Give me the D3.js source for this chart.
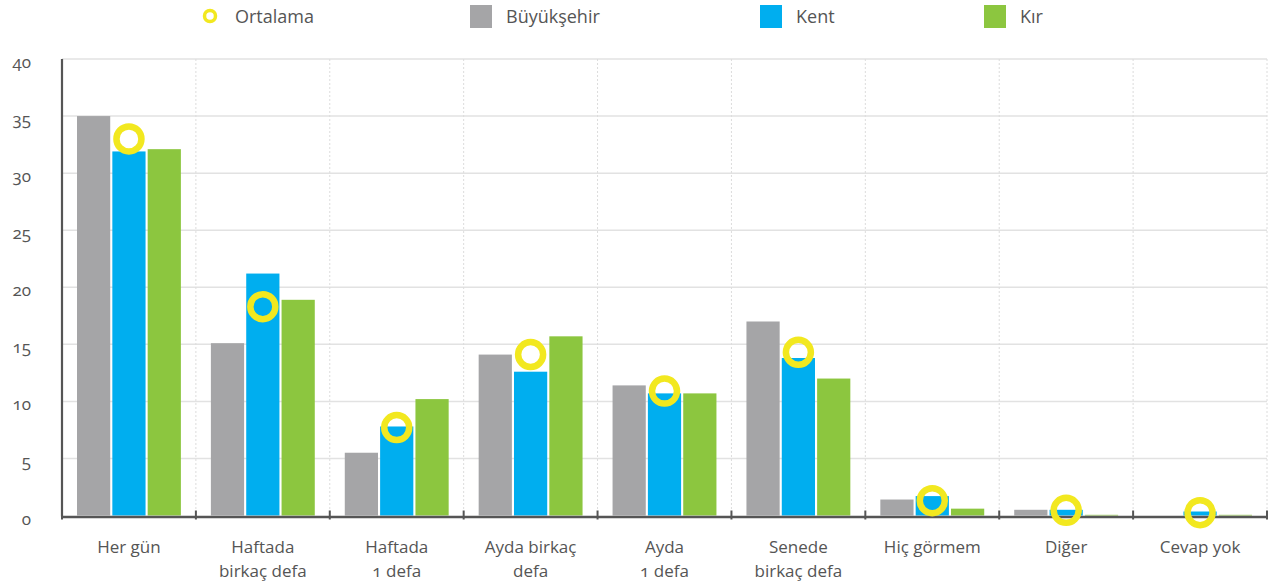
<!DOCTYPE html>
<html>
<head>
<meta charset="utf-8">
<script src="https://cdn.jsdelivr.net/npm/d3@7"></script>
<style>
  html, body { margin: 0; padding: 0; background: #fff; }
  svg { display: block; font-family: "Open Sans", "Noto Sans", sans-serif; }
  .num { font-variant-numeric: oldstyle-nums; font-feature-settings: "onum" 1; }
</style>
</head>
<body>
<svg id="chart" width="1272" height="585"></svg>
<script>
// Categories (two-line labels split by "\n")
const categories = [
  "Her gün", "Haftada\nbirkaç defa", "Haftada\n1 defa", "Ayda birkaç\ndefa",
  "Ayda\n1 defa", "Senede\nbirkaç defa", "Hiç görmem", "Diğer", "Cevap yok"
];
const seriesNames = ["Büyükşehir", "Kent", "Kır"];
const buyuksehir = [35.0, 15.1, 5.5, 14.1, 11.4, 17.0, 1.4, 0.5, 0.0];
const kent       = [31.9, 21.2, 7.8, 12.6, 10.7, 13.8, 1.7, 0.5, 0.35];
const kir        = [32.1, 18.9, 10.2, 15.7, 10.7, 12.0, 0.6, 0.06, 0.06];
const ortalama   = [33.0, 18.3, 7.7, 14.1, 10.9, 14.3, 1.3, 0.45, 0.25];
const yTicks = [0, 5, 10, 15, 20, 25, 30, 35, 40];

const colors = { "Büyükşehir": "#a5a5a7", "Kent": "#00aeef", "Kır": "#8cc63f" };
const ringColor = "#f2e81f";
const textColor = "#555555";

const svg = d3.select("#chart");
const plotLeft = 62, plotRight = 1267, plotTop = 59, plotBottom = 515.5;

const x0 = d3.scaleBand().domain(categories).range([plotLeft, plotRight]).padding(0);
const x1 = d3.scaleBand().domain(seriesNames).range([15, x0.bandwidth() - 15]).paddingInner(0.06);
const y = d3.scaleLinear().domain([0, 40]).range([plotBottom, plotTop]);

// Horizontal grid
svg.append("g")
  .selectAll("line").data(yTicks.filter(d => d > 0)).join("line")
  .attr("x1", plotLeft).attr("x2", plotRight)
  .attr("y1", d => y(d)).attr("y2", d => y(d))
  .attr("stroke", "#e2e2e2").attr("stroke-width", 1.5);

// Vertical dotted separators between categories
const bounds = categories.map(c => x0(c) + x0.bandwidth());
svg.append("g")
  .selectAll("line").data(bounds).join("line")
  .attr("x1", d => d).attr("x2", d => d)
  .attr("y1", plotTop).attr("y2", plotBottom)
  .attr("stroke", "#dcdcdc").attr("stroke-width", 1)
  .attr("stroke-dasharray", "2,2");

// Y tick labels
const yAxis = d3.axisLeft(y).tickValues(yTicks).tickSize(0).tickPadding(0);
const gy = svg.append("g").attr("transform", `translate(31,0)`).call(yAxis);
gy.select(".domain").remove();
gy.selectAll("text")
  .attr("class", "num")
  .attr("fill", textColor)
  .attr("font-size", 17)
  .attr("font-family", "'Open Sans', 'Noto Sans', sans-serif")
  .attr("dy", "0.5em");

// Bars
const rows = categories.map((c, i) => ({
  cat: c,
  vals: [
    { key: "Büyükşehir", v: buyuksehir[i] },
    { key: "Kent", v: kent[i] },
    { key: "Kır", v: kir[i] }
  ]
}));
const groups = svg.append("g").selectAll("g").data(rows).join("g")
  .attr("transform", d => `translate(${x0(d.cat)},0)`);
groups.selectAll("rect").data(d => d.vals).join("rect")
  .attr("x", d => x1(d.key))
  .attr("width", x1.bandwidth())
  .attr("y", d => y(d.v))
  .attr("height", d => y(0) - y(d.v))
  .attr("fill", d => colors[d.key]);

// Axis lines
svg.append("line").attr("x1", plotLeft).attr("x2", plotLeft).attr("y1", plotTop).attr("y2", plotBottom + 1)
  .attr("stroke", "#555").attr("stroke-width", 2.2);
const xAxis = d3.axisBottom(x0).tickSize(0).tickFormat(() => "");
const gx = svg.append("g").attr("transform", `translate(0,${plotBottom + 1})`).call(xAxis);
gx.select(".domain").attr("stroke", "#555").attr("stroke-width", 2.5);
gx.selectAll(".tick").remove();
svg.append("g").selectAll("line").data([plotLeft, ...bounds]).join("line")
  .attr("x1", d => d).attr("x2", d => d)
  .attr("y1", plotBottom - 5).attr("y2", plotBottom + 4)
  .attr("stroke", "#555").attr("stroke-width", 2);

// Category labels
const labels = svg.append("g").selectAll("text").data(categories).join("text")
  .attr("y", 553)
  .attr("text-anchor", "middle")
  .attr("font-size", 17)
  .attr("fill", textColor)
  .attr("class", "num");
labels.each(function(d) {
  const t = d3.select(this);
  d.split("\n").forEach((line, i) => {
    t.append("tspan").attr("x", x0(d) + x0.bandwidth() / 2).attr("dy", i === 0 ? 0 : 24).text(line);
  });
});

// Ortalama rings on the Kent bar
svg.append("g").selectAll("circle").data(categories).join("circle")
  .attr("cx", d => x0(d) + x1("Kent") + x1.bandwidth() / 2)
  .attr("cy", (d, i) => y(ortalama[i]))
  .attr("r", 12.5)
  .attr("fill", "none")
  .attr("stroke", ringColor)
  .attr("stroke-width", 6.5);

// Legend
const legend = svg.append("g");
legend.append("circle").attr("cx", 210).attr("cy", 16).attr("r", 5.5)
  .attr("fill", "none").attr("stroke", ringColor).attr("stroke-width", 3.5);
legend.append("text").attr("x", 235).attr("y", 23).text("Ortalama")
  .attr("font-size", 18).attr("fill", textColor);
const legItems = [
  { key: "Büyükşehir", x: 470 },
  { key: "Kent", x: 760 },
  { key: "Kır", x: 984 }
];
legItems.forEach(it => {
  legend.append("rect").attr("x", it.x).attr("y", 5).attr("width", 22).attr("height", 23)
    .attr("fill", colors[it.key]);
  legend.append("text").attr("x", it.x + 36).attr("y", 23).text(it.key)
    .attr("font-size", 18).attr("fill", textColor);
});
</script>
</body>
</html>
